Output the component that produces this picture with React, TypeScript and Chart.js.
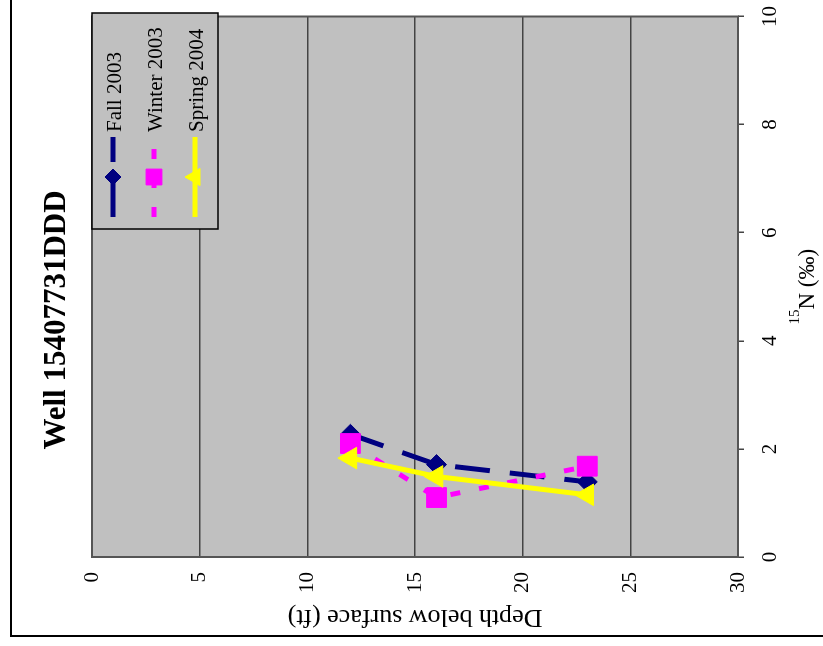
import { useEffect, useRef } from 'react';
import { Chart, registerables } from 'chart.js';
import { drawPoint } from 'chart.js/helpers';

Chart.register(...registerables);

// Sampling depths (ft) and δ15N (‰) per season
const depths = [12, 16, 23];
const fall2003 = [2.27, 1.71, 1.39];
const winter2003 = [2.1, 1.1, 1.68];
const spring2004 = [1.83, 1.49, 1.15];
const seriesNames = ['Fall 2003', 'Winter 2003', 'Spring 2004'];

const chartTitle = 'Well 15407731DDD';
const depthTitle = 'Depth below surface (ft)';
const isotopeSup = '15';
const isotopeRest = 'N (‰)';

const isotopeTicks = { min: 0, max: 10, step: 2 };
const depthTicks = { min: 0, max: 30, step: 5 };

// Chart is laid out portrait and turned a quarter-turn counter-clockwise on the page
const W = 645;
const H = 823;
const SERIF = "'Liberation Serif', 'Times New Roman', Times, serif";

const NAVY = '#000080';
const MAGENTA = '#FF00FF';
const YELLOW = '#FFFF00';

const toPoints = (vals: number[]) => vals.map((v, i) => ({ x: v, y: depths[i] }));

const decorPlugin = {
  id: 'decor',
  beforeDraw(chart: any) {
    const { ctx, chartArea: a } = chart;
    ctx.save();
    ctx.fillStyle = '#C0C0C0';
    ctx.fillRect(a.left, a.top, a.right - a.left, a.bottom - a.top);
    // outer frame
    ctx.strokeStyle = '#000';
    ctx.lineWidth = 2;
    ctx.beginPath();
    ctx.moveTo(1, H);
    ctx.lineTo(1, 1);
    ctx.lineTo(W, 1);
    ctx.stroke();
    ctx.restore();
  },
  beforeDatasetsDraw(chart: any) {
    const { ctx, chartArea: a } = chart;
    ctx.save();
    ctx.strokeStyle = '#555';
    ctx.lineWidth = 2;
    ctx.strokeRect(a.left, a.top, a.right - a.left, a.bottom - a.top);
    ctx.restore();
  },
  afterDraw(chart: any) {
    const { ctx, chartArea: a } = chart;
    ctx.save();
    ctx.fillStyle = '#000';

    // chart title
    ctx.font = `bold 31px ${SERIF}`;
    ctx.textAlign = 'center';
    ctx.textBaseline = 'alphabetic';
    ctx.fillText(chartTitle, 317, 55);

    // isotope axis title with superscript mass number
    ctx.textAlign = 'left';
    ctx.font = `15px ${SERIF}`;
    const wSup = ctx.measureText(isotopeSup).width;
    ctx.font = `23px ${SERIF}`;
    const wMain = ctx.measureText(isotopeRest).width;
    const cx = (a.left + a.right) / 2;
    const start = cx - (wSup + wMain) / 2;
    ctx.font = `15px ${SERIF}`;
    ctx.fillText(isotopeSup, start, 789);
    ctx.font = `23px ${SERIF}`;
    ctx.fillText(isotopeRest, start + wSup, 804);

    // legend box
    const box = { left: 408, top: 82, right: 624, bottom: 208 };
    ctx.fillStyle = '#C0C0C0';
    ctx.fillRect(box.left, box.top, box.right - box.left, box.bottom - box.top);
    ctx.strokeStyle = '#000';
    ctx.lineWidth = 1.5;
    ctx.strokeRect(box.left, box.top, box.right - box.left, box.bottom - box.top);

    const rows = [103, 144, 185];
    chart.data.datasets.forEach((ds: any, i: number) => {
      const y = rows[i];
      ctx.save();
      ctx.strokeStyle = ds.borderColor;
      ctx.lineWidth = ds.borderWidth;
      ctx.setLineDash(ds.borderDash || []);
      ctx.beginPath();
      ctx.moveTo(420, y);
      ctx.lineTo(500, y);
      ctx.stroke();
      ctx.setLineDash([]);
      ctx.fillStyle = ds.backgroundColor;
      ctx.strokeStyle = ds.borderColor;
      ctx.lineWidth = 1;
      drawPoint(ctx, { pointStyle: ds.pointStyle, rotation: 0, radius: ds.pointRadius * 0.8, borderWidth: 1 }, 460, y);
      ctx.restore();
      ctx.fillStyle = '#000';
      ctx.font = `21px ${SERIF}`;
      ctx.textAlign = 'left';
      ctx.textBaseline = 'alphabetic';
      ctx.fillText(ds.label, 505, y + 8);
    });
    ctx.restore();
  },
};

export default function App() {
  const canvasRef = useRef<HTMLCanvasElement | null>(null);

  useEffect(() => {
    if (!canvasRef.current) return;
    const chart = new Chart(canvasRef.current, {
      type: 'scatter',
      data: {
        datasets: [
          {
            label: seriesNames[0],
            data: toPoints(fall2003),
            borderColor: NAVY,
            backgroundColor: NAVY,
            borderWidth: 5,
            borderDash: [35, 20],
            pointStyle: 'rectRot',
            pointRadius: 10,
            pointBorderWidth: 1,
            pointBorderColor: NAVY,
            pointBackgroundColor: NAVY,
            showLine: true,
            tension: 0,
            order: 3,
          },
          {
            label: seriesNames[1],
            data: toPoints(winter2003),
            borderColor: MAGENTA,
            backgroundColor: MAGENTA,
            borderWidth: 5,
            borderDash: [10, 19],
            pointStyle: 'rect',
            pointRadius: 14,
            pointBorderWidth: 1,
            pointBorderColor: MAGENTA,
            pointBackgroundColor: MAGENTA,
            showLine: true,
            tension: 0,
            order: 2,
          },
          {
            label: seriesNames[2],
            data: toPoints(spring2004),
            borderColor: YELLOW,
            backgroundColor: YELLOW,
            borderWidth: 5,
            pointStyle: 'triangle',
            pointRadius: 12.5,
            pointBorderWidth: 1,
            pointBorderColor: YELLOW,
            pointBackgroundColor: YELLOW,
            showLine: true,
            tension: 0,
            order: 1,
          },
        ],
      },
      options: {
        responsive: false,
        animation: false,
        devicePixelRatio: 1,
        events: [],
        layout: { padding: { top: 82, left: 0, right: W - 628, bottom: 0 } },
        plugins: {
          legend: { display: false },
          tooltip: { enabled: false },
          title: { display: false },
        },
        scales: {
          x: {
            type: 'linear',
            position: 'bottom',
            min: isotopeTicks.min,
            max: isotopeTicks.max,
            ticks: {
              stepSize: isotopeTicks.step,
              color: '#000',
              font: { family: SERIF, size: 21 },
              padding: 14,
              maxRotation: 0,
            },
            grid: { drawOnChartArea: false, drawTicks: true, tickLength: 6, color: '#444', lineWidth: 1.5 },
            border: { display: false },
            afterFit: (s: any) => {
              s.height = H - 728;
            },
          },
          y: {
            type: 'linear',
            position: 'left',
            min: depthTicks.min,
            max: depthTicks.max,
            reverse: true,
            ticks: {
              stepSize: depthTicks.step,
              color: '#000',
              font: { family: SERIF, size: 21 },
              padding: 15,
            },
            grid: { drawTicks: false, color: '#444', lineWidth: 1.5 },
            border: { display: false },
            title: {
              display: true,
              text: depthTitle,
              color: '#000',
              font: { family: SERIF, size: 26 },
              padding: { top: 5, bottom: 0 },
            },
            afterFit: (s: any) => {
              s.width = 80;
            },
          },
        },
      },
      plugins: [decorPlugin],
    } as any);
    return () => chart.destroy();
  }, []);

  return (
    <div style={{ position: 'fixed', left: 0, top: 0, width: 823, height: 646, overflow: 'hidden', background: '#fff' }}>
      <div
        style={{
          position: 'absolute',
          left: 0,
          top: 0,
          width: W,
          height: H,
          transformOrigin: '0 0',
          transform: 'translate(10px, 637px) rotate(-90deg)',
        }}
      >
        <canvas ref={canvasRef} width={W} height={H} style={{ display: 'block' }} />
      </div>
    </div>
  );
}
